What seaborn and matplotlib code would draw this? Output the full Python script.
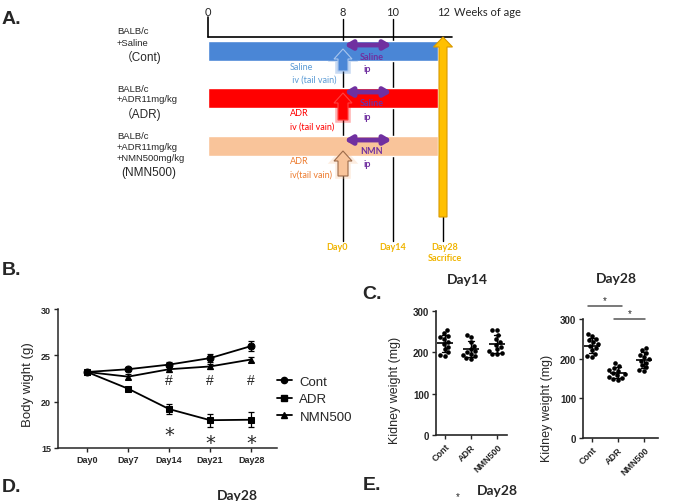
import numpy as np
import pandas as pd
import seaborn as sns
import matplotlib.pyplot as plt
import matplotlib.patheffects as pe
from matplotlib.patches import FancyArrow
from matplotlib.lines import Line2D

# ---- A. study design ----
groups = ['Cont', 'ADR', 'NMN500']
group_lines = [['BALB/c', '+Saline'],
               ['BALB/c', '+ADR11mg/kg'],
               ['BALB/c', '+ADR11mg/kg', '+NMN500mg/kg']]
group_names = ['（Cont)', '（ADR)', '(NMN500)']
iv_labels = [['Saline', ' iv (tail vain)'], ['ADR', 'iv (tail vain)'], ['ADR', 'iv(tail vain)']]
ip_labels = ['Saline', 'Saline', 'NMN']
week_ticks = [0, 8, 10, 12]
day_marks = ['Day0', 'Day14', 'Day28\nSacrifice']

# ---- B. body weight ----
days = ['Day0', 'Day7', 'Day14', 'Day21', 'Day28']
bw_cont = [23.2, 23.5, 24.0, 24.7, 26.0]
bw_adr = [23.2, 21.4, 19.2, 18.0, 18.05]
bw_nmn = [23.2, 22.7, 23.5, 23.8, 24.55]
se_cont = [0.15, 0.2, 0.3, 0.4, 0.5]
se_adr = [0.15, 0.2, 0.5, 0.7, 0.8]
se_nmn = [0.15, 0.3, 0.3, 0.25, 0.3]
hash_days = [2, 3, 4]
hash_y = [22.3, 22.3, 22.3]
star_days = [2, 3, 4]
star_y = [17.2, 16.4, 16.4]

# ---- C. kidney weight ----
kw14_cont = [253, 246, 240, 236, 232, 226, 220, 214, 207, 200, 194, 192]
kw14_adr = [243, 238, 226, 215, 208, 204, 200, 197, 194, 190, 187, 185]
kw14_nmn = [255, 254, 242, 232, 225, 218, 213, 207, 203, 199, 196, 196]
kw28_cont = [262, 256, 250, 246, 241, 236, 232, 226, 221, 213, 207, 204]
kw28_adr = [189, 181, 176, 172, 169, 165, 162, 158, 155, 152, 149, 147]
kw28_nmn = [228, 221, 214, 208, 203, 199, 195, 190, 184, 178, 172, 168]

sns.set_style('ticks')
plt.rcParams['font.family'] = ['Liberation Sans', 'Noto Sans CJK JP', 'DejaVu Sans']

W, H = 684, 502
fig = plt.figure(figsize=(W / 100, H / 100), dpi=100)


def px_axes(x0, y0, x1, y1):
    return fig.add_axes([x0 / W, 1 - y1 / H, (x1 - x0) / W, (y1 - y0) / H])


# overlay in pixel coordinates for panel A and letters
ov = fig.add_axes([0, 0, 1, 1], zorder=0)
ov.set_xlim(0, W)
ov.set_ylim(H, 0)
ov.axis('off')
ov.patch.set_alpha(0)

week_px = [208, 343, 393, 443]
wx = lambda w: float(np.interp(w, week_ticks, week_px))
row_y = [52, 99, 147]
bar_colors = ['#4a86d6', '#ff0000', '#f9c49a']
purple = '#7030a0'
gold = '#f0b400'

for w in week_ticks:
    ov.text(wx(w), 12, str(w), ha='center', va='center', fontsize=8, family='Lato')
ov.text(454, 12, 'Weeks of age', ha='left', va='center', fontsize=8, family='Lato')

x0, x8, x10, x12 = (wx(w) for w in week_ticks)
ov.plot([x0, 452], [38, 38], color='black', lw=1.2)
ov.plot([x0, x0], [18, 38], color='black', lw=1.2)
ov.plot([x8, x8], [20, 242], color='black', lw=1.0, zorder=1)
ov.plot([x10, x10], [20, 242], color='black', lw=1.0, zorder=1)
ov.plot([x12, x12], [38, 242], color='black', lw=1.0, zorder=1)

ov.barh(row_y, x12 - 5 - x0, left=x0, height=20, color=bar_colors, zorder=2)

iv_colors = ['#5b9bd5', '#ff0000', '#ed7d31']
arrow_tips = [50, 94, 152]
arrow_ends = [72, 121, 177]
arrow_edges = ['#a9c6ee', '#ff4040', '#9c6b4a']
for i, y in enumerate(row_y):
    ov.annotate('', xy=(x10, y - 6), xytext=(x8, y - 6),
                arrowprops=dict(arrowstyle='<|-|>,head_length=0.6,head_width=0.35',
                                lw=3.5, color=purple, shrinkA=1, shrinkB=1,
                                mutation_scale=7), zorder=3)
    ov.text((x8 + x10) / 2 + 4, y + 5, ip_labels[i], ha='center', va='center',
            fontsize=6.5, color=purple, fontweight='bold', family='Lato', zorder=4)
    ov.text((x8 + x10) / 2 - 1, y + 18, 'ip', ha='center', va='center',
            fontsize=6.5, color=purple, fontweight='bold', family='Lato', zorder=4)
    arr = FancyArrow(x8, arrow_ends[i], 0, arrow_tips[i] - arrow_ends[i], width=10,
                     head_width=18, head_length=10, length_includes_head=True,
                     fc=bar_colors[i], ec=arrow_edges[i], lw=0.8, zorder=5)
    arr.set_path_effects([pe.Stroke(linewidth=4, foreground=bar_colors[i], alpha=0.3),
                          pe.Normal()])
    ov.add_patch(arr)
    ov.text(290, y + 15, iv_labels[i][0], ha='left', va='center', fontsize=6.5,
            color=iv_colors[i], family='Lato')
    ov.text(290, y + 28, iv_labels[i][1], ha='left', va='center', fontsize=6.5,
            color=iv_colors[i], family='Lato')

label_top = [32, 89, 137]
for i, lines in enumerate(group_lines):
    for j, s in enumerate(lines):
        ov.text(117, label_top[i] + j * 11, s, ha='left', va='center', fontsize=6.8)
    ov.text(121, label_top[i] + len(lines) * 11 + 3, group_names[i], ha='left',
            va='center', fontsize=8.5)

yarr = FancyArrow(x12, 218, 0, 38 - 218, width=8, head_width=19, head_length=10,
                  length_includes_head=True, fc='#ffc000', ec='#d99a00', lw=0.8, zorder=4)
ov.add_patch(yarr)

for xp, s in zip([337, x10, 445], day_marks):
    ov.text(xp, 243, s, ha='center', va='top', fontsize=6.5, color=gold,
            fontweight='bold', family='Lato', linespacing=1.35)

# panel letters and titles
for s, (xp, yp) in zip(['A.', 'B.', 'C.', 'D.', 'E.'],
                       [(2, 20), (2, 271), (362, 295), (2, 488), (363, 486)]):
    ov.text(xp, yp, s, ha='left', va='center', fontsize=14, fontweight='bold')
ov.text(467, 280, 'Day14', ha='center', va='center', fontsize=10, fontweight='bold', family='Lato')
ov.text(616, 279, 'Day28', ha='center', va='center', fontsize=10, fontweight='bold', family='Lato')
ov.text(497, 491, 'Day28', ha='center', va='center', fontsize=10, fontweight='bold', family='Lato')
ov.text(237, 502, 'Day28', ha='center', va='bottom', fontsize=10, fontweight='bold', family='Lato')
ov.text(458, 497, '*', ha='center', va='center', fontsize=7)

# ---- B ----
axb = px_axes(58, 310, 277, 449)
df_bw = pd.DataFrame({'day': np.tile(np.arange(len(days)), 3),
                      'bw': bw_cont + bw_adr + bw_nmn,
                      'group': np.repeat(groups, len(days))})
sns.lineplot(data=df_bw, x='day', y='bw', style='group', markers=['o', 's', '^'],
             dashes=False, color='black', lw=1.3, markersize=5,
             markeredgecolor='black', legend=False, ax=axb)
for vals, errs in [(bw_cont, se_cont), (bw_adr, se_adr), (bw_nmn, se_nmn)]:
    axb.errorbar(np.arange(len(days)), vals, yerr=errs, fmt='none', ecolor='black',
                 elinewidth=0.9, capsize=2.5, capthick=0.9)
for d, y in zip(hash_days, hash_y):
    axb.text(d, y, '#', ha='center', va='center', fontsize=10)
for d, y in zip(star_days, star_y):
    axb.annotate('*', xy=(d, y), xytext=(0, -9), textcoords='offset points',
                 ha='center', va='baseline', fontsize=14, family='DejaVu Sans')
axb.set_xlim(-0.71, 4.63)
axb.set_ylim(15, 30)
axb.set_yticks([15, 20, 25, 30])
axb.set_xticks(range(len(days)))
axb.set_xticklabels(days)
axb.set_xlabel('')
axb.set_ylabel('Body wight (g)', fontsize=9.5)
axb.yaxis.set_label_coords(-0.11, 0.46)
axb.tick_params(labelsize=6.5, width=1, length=3, pad=2)
for lbl in axb.get_xticklabels() + axb.get_yticklabels():
    lbl.set_fontweight('bold')
for sp in ['left', 'bottom']:
    axb.spines[sp].set_linewidth(1.1)
sns.despine(ax=axb)
handles = [Line2D([], [], color='black', marker=m, markersize=4.5, lw=1.3)
           for m in ['o', 's', '^']]
axb.legend(handles, groups, loc='center left', bbox_to_anchor=(1.0, 0.35),
           frameon=False, fontsize=9.5, handlelength=1.1, handletextpad=0.6,
           labelspacing=0.4, borderaxespad=0, borderpad=0)


# ---- C ----
def kidney_panel(ax, a, b, c, xmax):
    df = pd.DataFrame({'group': np.repeat(groups, len(a)), 'kw': a + b + c})
    sns.pointplot(data=df, x='group', y='kw', errorbar='sd', color='black', markers='_',
                  markersize=11, markeredgewidth=1.2, linestyle='none', capsize=0.25,
                  err_kws={'linewidth': 1}, ax=ax)
    sns.swarmplot(data=df, x='group', y='kw', color='black', size=3.3, ax=ax)
    ax.set_xlim(-0.35, xmax)
    ax.set_ylim(0, 300)
    ax.set_yticks([0, 100, 200, 300])
    ax.set_xlabel('')
    ax.set_ylabel('Kidney weight (mg)', fontsize=9)
    ax.tick_params(labelsize=7, width=1, length=3, pad=2)
    ax.tick_params(axis='x', labelsize=6.5)
    for lbl in ax.get_xticklabels():
        lbl.set_rotation(45)
        lbl.set_ha('right')
        lbl.set_rotation_mode('anchor')
    for lbl in ax.get_xticklabels() + ax.get_yticklabels():
        lbl.set_fontweight('bold')
    for sp in ['left', 'bottom']:
        ax.spines[sp].set_linewidth(1.2)
    sns.despine(ax=ax)


axc1 = px_axes(436, 312, 507, 436)
kidney_panel(axc1, kw14_cont, kw14_adr, kw14_nmn, 2.38)
axc1.yaxis.set_label_coords(-0.49, 0.37)

axc2 = px_axes(583, 320, 658, 439)
kidney_panel(axc2, kw28_cont, kw28_adr, kw28_nmn, 2.54)
axc2.yaxis.set_label_coords(-0.4, 0.26)
sig_pairs = [(-0.15, 1.15, 333), (0.85, 2.04, 300)]
for xa, xb, y in sig_pairs:
    axc2.plot([xa, xb], [y, y], color='#555555', lw=1.1, clip_on=False)
    axc2.text((xa + xb) / 2, y + 3, '*', ha='center', va='bottom', fontsize=7, clip_on=False)

fig.savefig('out.png', dpi=100)
